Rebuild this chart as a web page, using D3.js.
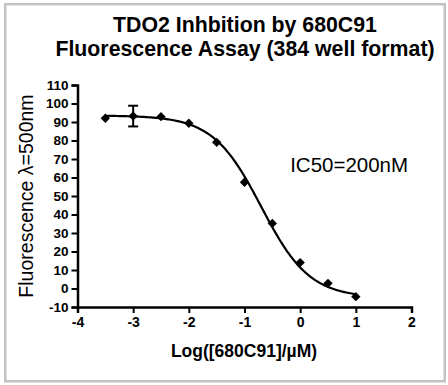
<!DOCTYPE html>
<html>
<head>
<meta charset="utf-8">
<script src="https://cdn.jsdelivr.net/npm/d3@7"></script>
<style>
	body { margin: 0; background: #fff; }
	svg { display: block; font-family: "Liberation Sans", Arial, sans-serif; }
</style>
</head>
<body>
<div id="graph"></div>
<script>
// measured points, log concentration (uM) vs fluorescence
let logConc = [-3.5, -3, -2.5, -2, -1.5, -1, -0.5, 0, 0.5, 1];
let fluor   = [92.0, 93.2, 92.9, 89.3, 79.0, 57.4, 35.2, 14.0, 2.8, -4.4];
let errBar  = [0, 5.6, 0, 0, 0, 0, 0, 0, 0, 0];

// four-parameter logistic fit shown on the chart
let fitTop = 93.5, fitBottom = -5, fitLogIC50 = -0.7, fitHill = 1;

let xTicks = [-4, -3, -2, -1, 0, 1, 2];
let yTicks = [-10, 0, 10, 20, 30, 40, 50, 60, 70, 80, 90, 100, 110];

let titleLines = ['TDO2 Inhbition by 680C91', 'Fluorescence Assay (384 well format)'];

let W = 448, H = 385;
let margin = { top: 85, right: 36.5, bottom: 78, left: 77.5 };
let width  = W - margin.left - margin.right;
let height = H - margin.top - margin.bottom;

let svg = d3.select('#graph')
	.append('svg')
		.attr('width', W)
		.attr('height', H);

svg.append('rect')
	.attr('x', 5.25).attr('y', 4.25)
	.attr('width', 439.5).attr('height', 377)
	.attr('fill', 'none')
	.attr('stroke', '#c3c3c3')
	.attr('stroke-width', 2.5);

svg.selectAll('.title')
	.data(titleLines)
	.enter().append('text')
		.attr('class', 'title')
		.attr('x', 245)
		.attr('y', (d, i) => 32 + i * 24)
		.attr('text-anchor', 'middle')
		.style('font-weight', 'bold')
		.style('font-size', '21.3px')
		.text((d) => d);

let g = svg.append('g')
	.attr('transform', "translate(" + margin.left + ", " + margin.top + ")");

let x = d3.scaleLinear().domain([-4, 2]).range([0, width]);
let y = d3.scaleLinear().domain([-10, 110]).range([height, 0]);

let xAxis = d3.axisBottom(x).tickValues(xTicks).tickSize(6).tickPadding(4).tickFormat((d) => String(d));
let yAxis = d3.axisLeft(y).tickValues(yTicks).tickSize(6).tickPadding(3).tickFormat((d) => String(d));

let gx = g.append('g')
	.attr('transform', "translate(0, " + height + ")")
	.call(xAxis);
let gy = g.append('g').call(yAxis);

[gx, gy].forEach((a) => {
	a.select('.domain').attr('stroke', '#000').attr('stroke-width', 2.5);
	a.selectAll('.tick line').attr('stroke', '#000').attr('stroke-width', 2);
	a.selectAll('.tick text')
		.attr('fill', '#000')
		.style('font-weight', 'bold')
		.style('font-family', '"Liberation Sans", Arial, sans-serif');
});
gx.selectAll('.tick text').style('font-size', '14px');
gy.selectAll('.tick text').style('font-size', '13.5px');

// fitted curve
let fit = (v) => fitBottom + (fitTop - fitBottom) / (1 + Math.pow(10, (v - fitLogIC50) * fitHill));
let curveX = d3.range(0, 181).map((i) => logConc[0] + (logConc[logConc.length - 1] - logConc[0]) * i / 180);

let line = d3.line()
	.x((d) => x(d))
	.y((d) => y(fit(d)));

g.append('path')
	.attr('d', line(curveX))
	.attr('fill', 'none')
	.attr('stroke', '#000')
	.attr('stroke-width', 2.2);

let pts = logConc.map((c, i) => ({ c: c, v: fluor[i], e: errBar[i] }));

// error bars
let eb = g.selectAll('.err')
	.data(pts.filter((d) => d.e > 0))
	.enter().append('g')
		.attr('class', 'err')
		.attr('stroke', '#000')
		.attr('stroke-width', 2);
eb.append('line')
	.attr('x1', (d) => x(d.c)).attr('x2', (d) => x(d.c))
	.attr('y1', (d) => y(d.v + d.e)).attr('y2', (d) => y(d.v - d.e));
eb.append('line')
	.attr('x1', (d) => x(d.c) - 5).attr('x2', (d) => x(d.c) + 5)
	.attr('y1', (d) => y(d.v + d.e)).attr('y2', (d) => y(d.v + d.e));
eb.append('line')
	.attr('x1', (d) => x(d.c) - 5).attr('x2', (d) => x(d.c) + 5)
	.attr('y1', (d) => y(d.v - d.e)).attr('y2', (d) => y(d.v - d.e));

g.selectAll('.pt')
	.data(pts)
	.enter().append('path')
		.attr('class', 'pt')
		.attr('d', d3.symbol().type(d3.symbolDiamond2).size(56))
		.attr('transform', (d) => "translate(" + x(d.c) + ", " + y(d.v) + ")")
		.attr('fill', '#000');

g.append('text')
	.attr('x', x(-0.18))
	.attr('y', y(62.8))
	.style('font-size', '20.5px')
	.text('IC50=200nM');

svg.append('text')
	.attr('x', 244)
	.attr('y', 357)
	.attr('text-anchor', 'middle')
	.style('font-weight', 'bold')
	.style('font-size', '17.5px')
	.text('Log([680C91]/\u00b5M)');

svg.append('text')
	.attr('transform', 'translate(33, 196) rotate(-90)')
	.attr('text-anchor', 'middle')
	.style('font-size', '19.5px')
	.text('Fluorescence \u03bb=500nm');
</script>
</body>
</html>
